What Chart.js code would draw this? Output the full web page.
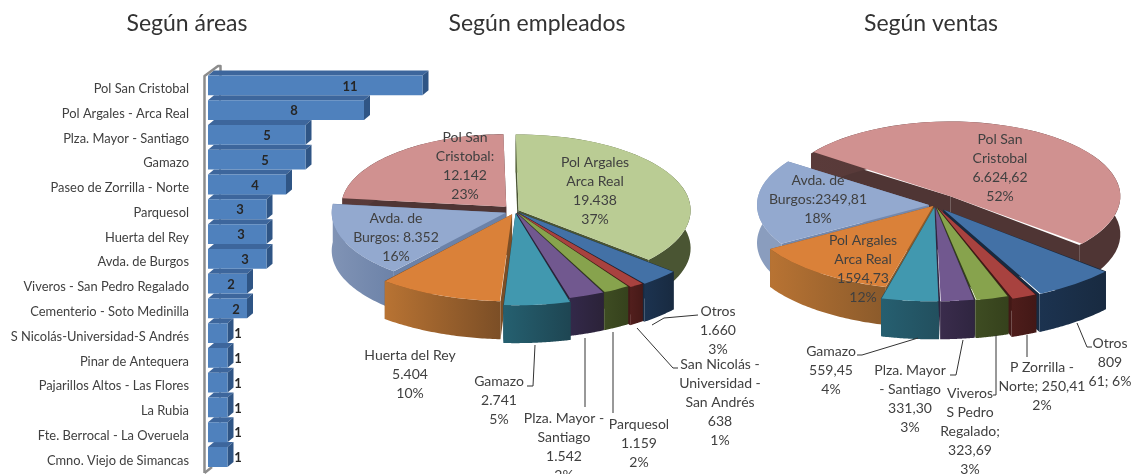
<!DOCTYPE html>
<html><head><meta charset="utf-8">
<style>
html,body{margin:0;padding:0;background:#fff;width:1134px;height:474px;overflow:hidden}
.w{position:absolute;left:0;top:0}
canvas{display:block}
</style>
<script src="https://cdn.jsdelivr.net/npm/chart.js@4/dist/chart.umd.min.js"></script>
</head><body>
<div class="w"><canvas id="c1" width="442" height="474" style="width:442px;height:474px"></canvas></div>
<div class="w"><canvas id="c2" width="1134" height="474" style="width:1134px;height:474px"></canvas></div>
<div class="w"><canvas id="c3" width="1134" height="474" style="width:1134px;height:474px"></canvas></div>
<script>
// ---------- data ----------
const areaNames = ["Pol San Cristobal","Pol Argales - Arca Real","Plza. Mayor - Santiago","Gamazo","Paseo de Zorrilla - Norte","Parquesol","Huerta del Rey","Avda. de Burgos","Viveros - San Pedro Regalado","Cementerio - Soto Medinilla","S Nicolás-Universidad-S Andrés","Pinar de Antequera","Pajarillos Altos - Las Flores","La Rubia","Fte. Berrocal - La Overuela","Cmno. Viejo de Simancas"];
const areaValues = [11,8,5,5,4,3,3,3,2,2,1,1,1,1,1,1];

const empNames = ["Pol Argales Arca Real","Otros","San Nicolás - Universidad - San Andrés","Parquesol","Plza. Mayor - Santiago","Gamazo","Huerta del Rey","Avda. de Burgos","Pol San Cristobal"];
const empValues = [19438,1660,638,1159,1542,2741,5404,8352,12142];

const salesNames = ["Pol San Cristobal","Otros","P Zorrilla - Norte","Viveros S Pedro Regalado","Plza. Mayor - Santiago","Gamazo","Pol Argales Arca Real","Avda. de Burgos"];
const salesValues = [6624.62,809.61,250.41,323.69,331.30,559.45,1594.73,2349.81];

const titles = ["Según áreas","Según empleados","Según ventas"];

// ---------- styles / layout ----------
const FONT = 'Lato, "Open Sans", sans-serif';
const TEXT = '#404040';
const empTop  = ['#BACC94','#4371A6','#A8423F','#87A34D','#71588F','#4198AF','#DA8139','#93A9CF','#D09190'];
const empWallA= ['#5E6B42','#1C3350','#521F1D','#3E4C22','#33294A','#256070','#B87333','#8093B5','#5A3B3A'];
const empWallB= ['#4A5533','#182A40','#451917','#35411C','#2B2238','#1E4552','#7B4E26','#6C82A8','#4F3534'];
const salesTop = ['#D09190','#4371A6','#A8423F','#87A34D','#71588F','#4198AF','#DA8139','#93A9CF'];
const salesWallA=['#5A3B3A','#1C3350','#4E1D1B','#3E4C22','#3A2C4C','#265F70','#B87333','#8A9DBE'];
const salesWallB=['#4F3534','#182A40','#421816','#35411C','#2F2540','#224F5E','#8A5A2B','#7488AC'];

const empGeom = {cx:515, cy:211, k:0.44, depth:38, rotation:-1,
  radius:[172,206,204,201,201,209,198,174,165],
  push:  [4,4,4,4,4,5,8,10,13]};
const salesGeom = {cx:935, cy:205, k:0.44, depth:38, rotation:-55,
  radius:[170,214,219,214,214,214,190,172],
  push:  [25,14,8,6,5,5,3,6]};

const empLabels = [
 {x:595,y:162,t:["Pol Argales","Arca Real","19.438","37%"]},
 {x:465,y:137,t:["Pol San","Cristobal:","12.142","23%"]},
 {x:396,y:218,t:["Avda. de","Burgos: 8.352","16%"]},
 {x:410,y:355,t:["Huerta del Rey","5.404","10%"]},
 {x:499,y:381,t:["Gamazo","2.741","5%"]},
 {x:564,y:418,t:["Plza. Mayor -","Santiago","1.542","2%"]},
 {x:639,y:424,t:["Parquesol","1.159","2%"]},
 {x:720,y:364,t:["San Nicolás -","Universidad -","San Andrés","638","1%"]},
 {x:718,y:311,t:["Otros","1.660","3%"]}
];
const empLeaders = [
 [[652,325],[664,318],[698,315]],
 [[637,328],[673,368],[678,368]],
 [[613,332],[613,413]],
 [[585,338],[585,407]],
 [[535,345],[533,386],[527,386]]
];
const salesLabels = [
 {x:1000,y:139,t:["Pol San","Cristobal","6.624,62","52%"]},
 {x:818,y:180,t:["Avda. de","Burgos:2349,81","18%"]},
 {x:863,y:240,t:["Pol Argales","Arca Real","1594,73","12%"]},
 {x:831,y:351,t:["Gamazo","559,45","4%"]},
 {x:910,y:370,t:["Plza. Mayor","- Santiago","331,30","3%"]},
 {x:970,y:393,t:["Viveros","S Pedro","Regalado;","323,69","3%"]},
 {x:1042,y:367,t:["P Zorrilla -","Norte; 250,41","2%"]},
 {x:1110,y:343,t:["Otros","809","61; 6%"]}
];
const salesLeaders = [
 [[918,338],[862,355],[857,355]],
 [[963,340],[956,375],[950,375]],
 [[996,335],[996,395],[993,395]],
 [[1027,335],[1027,357]],
 [[1077,323],[1087,347],[1092,347]]
];
const barLabelX = [350,294,267,265,255,240,241,245,231,236,238,238,238,238,238,238];

Chart.defaults.font.family = FONT;

function drawTitle(ctx, s, x){
  ctx.save();
  ctx.font = '23px '+FONT; ctx.fillStyle='#333'; ctx.textAlign='center'; ctx.textBaseline='middle';
  ctx.fillText(s,x,24); ctx.restore();
}

// ---------- 3D bar ----------
const bar3d = {
  id:'bar3d',
  beforeDatasetsDraw(chart){
    const ctx = chart.ctx, m = chart.getDatasetMeta(0), dx=6, dy=-5;
    ctx.save();
    ctx.strokeStyle='#8C8C8C'; ctx.lineWidth=2.5; ctx.lineJoin='round';
    ctx.beginPath(); ctx.moveTo(204.5,473); ctx.lineTo(204.5,76); ctx.lineTo(218,66); ctx.lineTo(220.5,66); ctx.lineTo(220.5,76); ctx.stroke();
    ctx.beginPath(); ctx.moveTo(204.5,473); ctx.lineTo(212,467); ctx.stroke();
    ctx.lineWidth=2; ctx.beginPath(); ctx.moveTo(220,76); ctx.lineTo(220,462); ctx.stroke();
    m.data.forEach(b=>{
      const h=b.height, t=b.y-h/2, bt=b.y+h/2, L=b.base, R=b.x;
      ctx.fillStyle='#3D669C';
      ctx.beginPath(); ctx.moveTo(L,t); ctx.lineTo(L+dx,t+dy); ctx.lineTo(R+dx,t+dy); ctx.lineTo(R,t); ctx.closePath(); ctx.fill();
      ctx.fillStyle='#2F5585';
      ctx.beginPath(); ctx.moveTo(R,t); ctx.lineTo(R+dx,t+dy); ctx.lineTo(R+dx,bt+dy); ctx.lineTo(R,bt); ctx.closePath(); ctx.fill();
    });
    ctx.restore();
  },
  afterDraw(chart){
    const ctx = chart.ctx, m = chart.getDatasetMeta(0);
    ctx.save();
    ctx.font='bold 13px '+FONT; ctx.fillStyle='#262626'; ctx.textAlign='center'; ctx.textBaseline='middle';
    m.data.forEach((b,i)=>ctx.fillText(String(areaValues[i]),barLabelX[i],b.y+1));
    ctx.restore();
    drawTitle(ctx,titles[0],187);
  }
};

new Chart(document.getElementById('c1'),{
  type:'bar',
  data:{labels:areaNames,datasets:[{data:areaValues,backgroundColor:'#4F81BD',borderWidth:0,categoryPercentage:1,barPercentage:0.8}]},
  options:{
    indexAxis:'y',responsive:false,animation:false,events:[],maintainAspectRatio:false,
    layout:{padding:{top:73,bottom:4.6,left:0,right:0}},
    plugins:{legend:{display:false},tooltip:{enabled:false},title:{display:false}},
    scales:{
      x:{min:0,max:12,ticks:{display:false},grid:{display:false,drawTicks:false},border:{display:false},afterFit(s){s.height=0;}},
      y:{grid:{display:false,drawTicks:false},border:{display:false},
         afterFit(s){s.width=208;s.paddingTop=0;s.paddingBottom=0;},
         ticks:{font:{size:12.9,family:FONT},color:TEXT,padding:19,labelOffset:3.5,autoSkip:false}}
    }
  },
  plugins:[bar3d]
});

// ---------- 3D pie ----------
function pie3d(g, wallA, wallB, labels, leaders, title, titleX){
  function sliceGeom(a){
    const off = (a.options.offset||0)/4;
    const mid = (a.startAngle+a.endAngle)/2;
    return {ox:Math.cos(mid)*off, oy:Math.sin(mid)*off, r:a.outerRadius + off*(1-Math.sin(Math.min(Math.PI,a.circumference))), mid};
  }
  return {
    id:'pie3d',
    afterDatasetsUpdate(chart){
      chart.getDatasetMeta(0).data.forEach((a,i)=>{
        const fix=1-Math.sin(Math.min(Math.PI,a.circumference));
        a.outerRadius = g.radius[i]-g.push[i]*fix;
      });
    },
    beforeDatasetsDraw(chart){
      const ctx=chart.ctx, arcs=chart.getDatasetMeta(0).data, d=g.depth;
      const order=arcs.map((a,i)=>i).sort((p,q)=>{
        const mp=(arcs[p].startAngle+arcs[p].endAngle)/2, mq=(arcs[q].startAngle+arcs[q].endAngle)/2;
        return Math.sin(mp)-Math.sin(mq);
      });
      ctx.save();
      order.forEach(i=>{
        const a=arcs[i], s=sliceGeom(a);
        const X=(ang)=>g.cx+s.ox+s.r*Math.cos(ang);
        const Y=(ang)=>g.cy+(s.oy+s.r*Math.sin(ang))*g.k;
        const px=g.cx+s.ox, py=g.cy+s.oy*g.k;
        const x0=X(a.startAngle), x1=X(a.endAngle);
        const grd=ctx.createLinearGradient(Math.min(x0,x1),0,Math.max(x0,x1)+1,0);
        grd.addColorStop(0,wallA[i]); grd.addColorStop(1,wallB[i]);
        ctx.fillStyle=wallB[i];
        [a.startAngle,a.endAngle].forEach(ang=>{
          ctx.beginPath(); ctx.moveTo(px,py); ctx.lineTo(X(ang),Y(ang)); ctx.lineTo(X(ang),Y(ang)+d); ctx.lineTo(px,py+d); ctx.closePath(); ctx.fill();
        });
        ctx.fillStyle=grd;
        ctx.beginPath();
        const n=48;
        for(let j=0;j<=n;j++){const t=a.startAngle+(a.endAngle-a.startAngle)*j/n; j?ctx.lineTo(X(t),Y(t)):ctx.moveTo(X(t),Y(t));}
        for(let j=n;j>=0;j--){const t=a.startAngle+(a.endAngle-a.startAngle)*j/n; ctx.lineTo(X(t),Y(t)+d);}
        ctx.closePath(); ctx.fill();
      });
      ctx.restore();
      const a0=arcs[0];
      ctx.save();
      ctx.translate(g.cx,g.cy); ctx.scale(1,g.k); ctx.translate(-a0.x,-a0.y);
    },
    afterDatasetsDraw(chart){ chart.ctx.restore(); },
    afterDraw(chart){
      const ctx=chart.ctx;
      ctx.save();
      ctx.strokeStyle='#333'; ctx.lineWidth=1;
      leaders.forEach(l=>{ctx.beginPath(); l.forEach((p,i)=>i?ctx.lineTo(p[0],p[1]):ctx.moveTo(p[0],p[1])); ctx.stroke();});
      ctx.font='14px '+FONT; ctx.fillStyle=TEXT; ctx.textAlign='center'; ctx.textBaseline='middle';
      labels.forEach(l=>l.t.forEach((s,i)=>ctx.fillText(s,l.x,l.y+i*19)));
      ctx.restore();
      drawTitle(ctx,title,titleX);
    }
  };
}

function makePie(id, names, values, colors, g, wallA, wallB, labels, leaders, title, titleX){
  new Chart(document.getElementById(id),{
    type:'doughnut',
    data:{labels:names,datasets:[{data:values,backgroundColor:colors,borderWidth:0,offset:g.push.map(v=>v*4),clip:false}]},
    options:{
      responsive:false,animation:false,events:[],maintainAspectRatio:false,
      cutout:0,rotation:g.rotation,radius:170,
      layout:{padding:0},
      plugins:{legend:{display:false},tooltip:{enabled:false},title:{display:false}}
    },
    plugins:[pie3d(g,wallA,wallB,labels,leaders,title,titleX)]
  });
}
makePie('c2',empNames,empValues,empTop,empGeom,empWallA,empWallB,empLabels,empLeaders,titles[1],537);
makePie('c3',salesNames,salesValues,salesTop,salesGeom,salesWallA,salesWallB,salesLabels,salesLeaders,titles[2],931);
</script>
</body></html>
